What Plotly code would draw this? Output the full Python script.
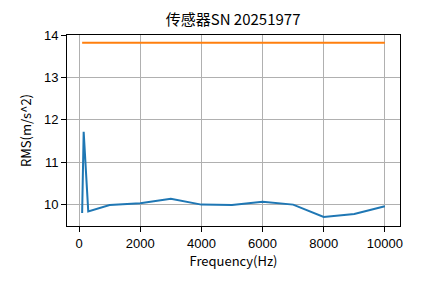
import plotly.graph_objects as go

freq = [100, 150, 300, 1000, 2000, 3000, 4000, 5000, 6000, 7000, 8000, 9000, 10000]
rms = [9.80, 11.72, 9.84, 9.99, 10.03, 10.14, 10.00, 9.99, 10.07, 10.00, 9.71, 9.78, 9.96]
limit_x = [100, 10000]
limit_y = [13.82, 13.82]

title_text = "传感器SN 20251977"
xlabel = "Frequency(Hz)"
ylabel = "RMS(m/s^2)"
xticks = [0, 2000, 4000, 6000, 8000, 10000]
yticks = [10, 11, 12, 13, 14]

fig = go.Figure()
fig.add_trace(go.Scatter(x=freq, y=rms, mode="lines",
                         line=dict(color="#1f77b4", width=2), showlegend=False))
fig.add_trace(go.Scatter(x=limit_x, y=limit_y, mode="lines",
                         line=dict(color="#ff7f0e", width=2), showlegend=False))

axis_common = dict(showline=True, linecolor="black", linewidth=1, mirror=True,
                   ticks="outside", ticklen=5, tickcolor="black", tickwidth=1,
                   showgrid=True, gridcolor="#b0b0b0", gridwidth=1, zeroline=False,
                   tickfont=dict(family="Liberation Sans", size=13, color="black"))

fig.update_layout(
    width=444, height=283,
    margin=dict(l=67, r=44, t=35, b=57),
    paper_bgcolor="white", plot_bgcolor="white",
    title=dict(text=title_text, x=0.525, xanchor="center", y=1 - 20/283, yanchor="middle",
               font=dict(family="Noto Sans CJK SC", size=15, color="black")),
    xaxis=dict(range=[-395, 10495], tickvals=xticks, ticktext=[str(t) for t in xticks],
               title=dict(text=xlabel, standoff=4,
                          font=dict(family="Noto Sans CJK SC", size=13, color="black")),
               **axis_common),
    yaxis=dict(range=[9.495, 14.005], tickvals=yticks, ticktext=[str(t) for t in yticks],
               title=dict(text=ylabel, standoff=9,
                          font=dict(family="Noto Sans CJK SC", size=13, color="black")),
               **axis_common),
)

fig.write_html("out.html")
